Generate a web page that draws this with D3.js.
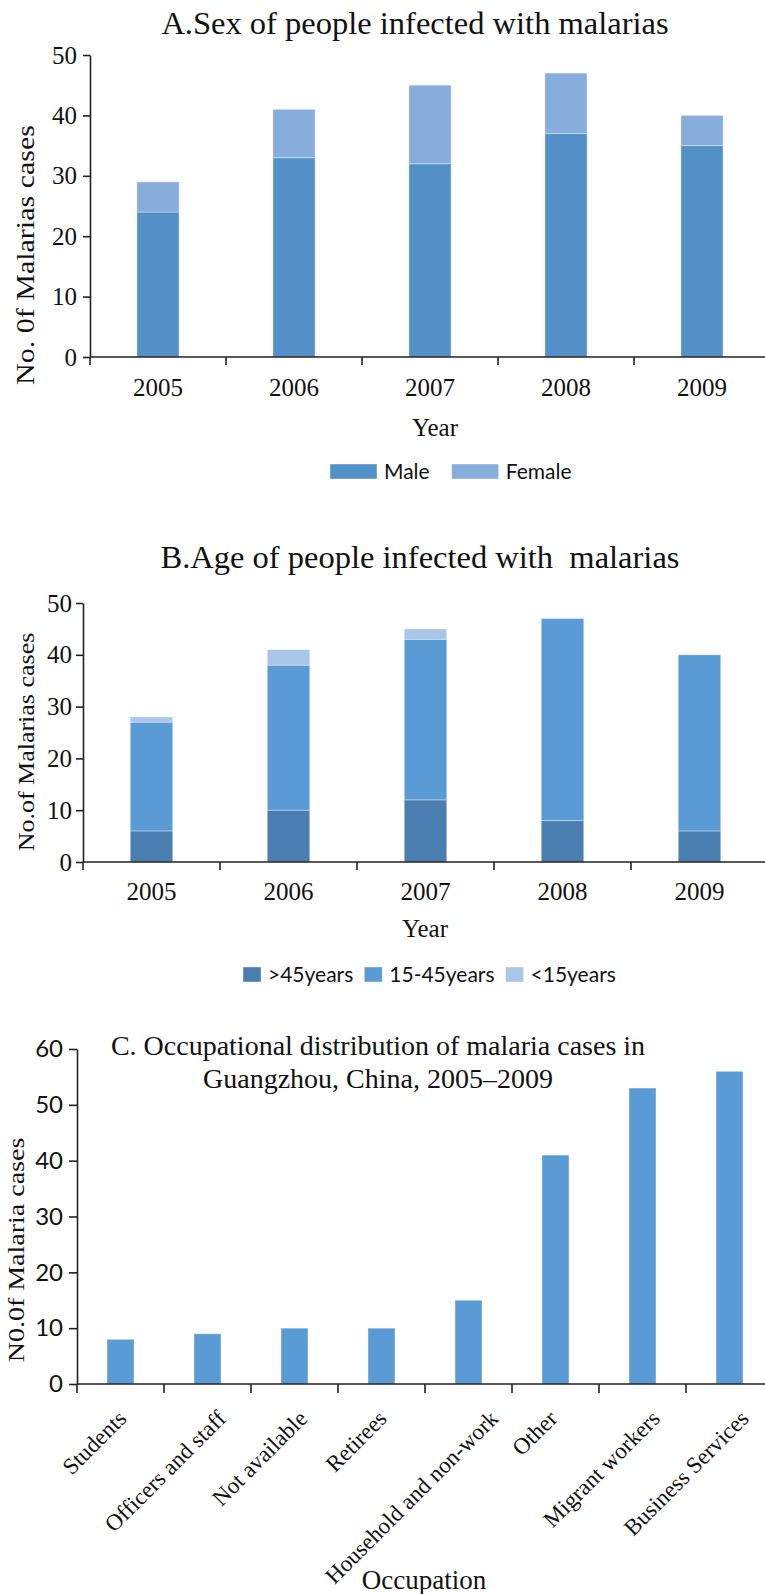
<!DOCTYPE html>
<html lang="en">
<head>
  <meta charset="UTF-8">
  <title>Malaria cases, Guangzhou 2005-2009</title>
  <script src="https://d3js.org/d3.v7.min.js"></script>
  <style>
    body { margin: 0; background: #fff; }
  </style>
</head>
<body>
<script>
  // Data
  const years = ["2005", "2006", "2007", "2008", "2009"];
  const male = [24, 33, 32, 37, 35];
  const female = [5, 8, 13, 10, 5];

  const ageOver45 = [6, 10, 12, 8, 6];
  const age15to45 = [21, 28, 31, 39, 34];
  const ageUnder15 = [1, 3, 2, 0, 0];

  const occupations = ["Students", "Officers and staff", "Not available", "Retirees",
    "Household and non-work", "Other", "Migrant workers", "Business Services"];
  const occupationCases = [8, 9, 10, 10, 15, 41, 53, 56];

  const W = 765, H = 1594;
  const SERIF = '"Liberation Serif", "Times New Roman", serif';
  const SANS = 'Lato, "Open Sans", sans-serif';
  const axisColor = "#222";

  const svg = d3.select("body").append("svg")
    .attr("width", W)
    .attr("height", H);

  function font(sel, family, size) {
    sel.style("font-family", family).style("font-size", size + "px").attr("fill", "#111");
  }

  function styleAxis(g) {
    g.selectAll("path, line").attr("stroke", axisColor).attr("stroke-width", 1.6);
  }

  // stacked bar panel (A and B)
  function stackedPanel(opt) {
    const x = d3.scaleBand().domain(years).range([opt.left, opt.right]);
    const y = d3.scaleLinear().domain([0, 50]).range([opt.bottom, opt.top]);
    const barW = x.bandwidth() * 0.31;

    const rows = years.map((yr, i) => {
      const r = { year: yr };
      opt.series.forEach(s => r[s.key] = s.values[i]);
      return r;
    });
    const stack = d3.stack().keys(opt.series.map(s => s.key))(rows);
    const color = d3.scaleOrdinal().domain(opt.series.map(s => s.key)).range(opt.series.map(s => s.color));

    const g = svg.append("g");

    g.selectAll("g.layer")
      .data(stack)
      .enter().append("g")
      .attr("fill", d => color(d.key))
      .selectAll("rect")
      .data(d => d.filter(p => p[1] > p[0]))
      .enter().append("rect")
      .attr("x", d => x(d.data.year) + (x.bandwidth() - barW) / 2)
      .attr("width", barW)
      .attr("y", d => y(d[1]))
      .attr("height", d => y(d[0]) - y(d[1]))
      .attr("stroke", "#fff")
      .attr("stroke-opacity", 0.35)
      .attr("stroke-width", 1);

    // x axis: labels at band centres, ticks at band edges
    const xa = g.append("g")
      .attr("transform", `translate(0,${opt.bottom})`)
      .call(d3.axisBottom(x).tickSize(0).tickPadding(opt.tickPad))
      .call(styleAxis);
    xa.selectAll("text").call(font, SERIF, 25);
    xa.select(".domain").attr("d", `M${opt.left},0H${opt.right}`);

    g.selectAll("line.edge")
      .data(years.map(d => x(d)))
      .enter().append("line")
      .attr("x1", d => d).attr("x2", d => d)
      .attr("y1", opt.bottom).attr("y2", opt.bottom + 8)
      .attr("stroke", axisColor).attr("stroke-width", 1.6);

    const ya = g.append("g")
      .attr("transform", `translate(${opt.left},0)`)
      .call(d3.axisLeft(y).ticks(5).tickSize(7).tickSizeOuter(0).tickPadding(opt.yPad))
      .call(styleAxis);
    ya.selectAll("text").call(font, SERIF, 25);

    g.append("text")
      .attr("x", opt.titleX).attr("y", opt.titleY)
      .attr("text-anchor", "middle")
      .call(font, SERIF, 32.5)
      .text(opt.title);

    g.append("text")
      .attr("x", opt.xLabelX).attr("y", opt.xLabelY)
      .attr("text-anchor", "middle")
      .call(font, SERIF, 25)
      .text("Year");

    g.append("text")
      .attr("transform", `translate(${opt.yLabelX},${opt.yLabelY}) rotate(-90) scale(1,0.85)`)
      .attr("text-anchor", "middle")
      .call(font, SERIF, opt.yLabelSize)
      .text(opt.yLabel);

    // legend
    const lg = g.append("g").attr("transform", `translate(${opt.legendX},${opt.legendY})`);
    let cx = 0;
    opt.series.forEach(s => {
      lg.append("rect")
        .attr("x", cx).attr("y", -8)
        .attr("width", opt.swatchW).attr("height", 15)
        .attr("fill", s.color)
        .attr("stroke", "#fff").attr("stroke-opacity", 0.4);
      const t = lg.append("text")
        .attr("x", cx + opt.swatchW + 7).attr("y", 7)
        .call(font, SANS, 21)
        .text(s.label);
      cx += opt.swatchW + 7 + t.node().getComputedTextLength() + opt.legendGap;
    });
  }

  stackedPanel({
    left: 90, right: 770, top: 55, bottom: 357, tickPad: 21, yPad: 6,
    title: "A.Sex of people infected with malarias", titleX: 415, titleY: 34,
    xLabelX: 435, xLabelY: 436,
    yLabel: "No. 0f Malarias cases", yLabelX: 34, yLabelY: 255, yLabelSize: 30,
    legendX: 330, legendY: 472, swatchW: 47, legendGap: 22,
    series: [
      { key: "male", label: "Male", values: male, color: "#5490c8" },
      { key: "female", label: "Female", values: female, color: "#86addb" }
    ]
  });

  stackedPanel({
    left: 83, right: 768, top: 603, bottom: 862, tickPad: 20, yPad: 4,
    title: "B.Age of people infected with\u00a0 malarias", titleX: 420, titleY: 568,
    xLabelX: 425, xLabelY: 937,
    yLabel: "No.of Malarias cases", yLabelX: 34, yLabelY: 742, yLabelSize: 26,
    legendX: 243, legendY: 975, swatchW: 18, legendGap: 11,
    series: [
      { key: "old", label: ">45years", values: ageOver45, color: "#4a7eb1" },
      { key: "mid", label: "15-45years", values: age15to45, color: "#5b9bd5" },
      { key: "young", label: "<15years", values: ageUnder15, color: "#a9c5e7" }
    ]
  });

  // Panel C: occupations
  (function () {
    const left = 77, right = 773, top = 1049, bottom = 1384;
    const x = d3.scaleBand().domain(occupations).range([left, right]);
    const y = d3.scaleLinear().domain([0, 60]).range([bottom, top]);
    const barW = x.bandwidth() * 0.31;
    const g = svg.append("g");

    g.selectAll("rect.occ")
      .data(occupations)
      .enter().append("rect")
      .attr("class", "occ")
      .attr("x", d => x(d) + (x.bandwidth() - barW) / 2)
      .attr("width", barW)
      .attr("y", (d, i) => y(occupationCases[i]))
      .attr("height", (d, i) => bottom - y(occupationCases[i]))
      .attr("fill", "#5b9bd5")
      .attr("stroke", "#fff").attr("stroke-opacity", 0.35);

    const xa = g.append("g")
      .attr("transform", `translate(0,${bottom})`)
      .call(d3.axisBottom(x).tickSize(0).tickPadding(0))
      .call(styleAxis);
    xa.select(".domain").attr("d", `M${left},0H${right}`);
    // rotated labels: longer labels sit a little further right, as in the source figure
    xa.selectAll("text")
      .call(font, SERIF, 23)
      .attr("text-anchor", "end")
      .attr("dy", 0)
      .attr("y", 0)
      .attr("transform", function () {
        const len = this.getComputedTextLength();
        return `translate(${-5 + 0.155 * len},36) rotate(-45)`;
      });

    g.selectAll("line.edge")
      .data(occupations.map(d => x(d)))
      .enter().append("line")
      .attr("x1", d => d).attr("x2", d => d)
      .attr("y1", bottom).attr("y2", bottom + 9)
      .attr("stroke", axisColor).attr("stroke-width", 1.6);

    const ya = g.append("g")
      .attr("transform", `translate(${left},0)`)
      .call(d3.axisLeft(y).ticks(6).tickSize(8).tickSizeOuter(0).tickPadding(6))
      .call(styleAxis);
    ya.selectAll("text").call(font, SANS, 24);

    const title = g.append("text")
      .attr("text-anchor", "middle")
      .call(font, SERIF, 28);
    title.append("tspan").attr("x", 378).attr("y", 1055).text("C. Occupational distribution of malaria cases in");
    title.append("tspan").attr("x", 378).attr("y", 1088).text("Guangzhou, China, 2005\u20132009");

    g.append("text")
      .attr("x", 424).attr("y", 1589)
      .attr("text-anchor", "middle")
      .call(font, SERIF, 27)
      .text("Occupation");

    g.append("text")
      .attr("transform", `translate(24,1250) rotate(-90) scale(1,0.85)`)
      .attr("text-anchor", "middle")
      .call(font, SERIF, 28)
      .text("N0.0f Malaria cases");
  })();
</script>
</body>
</html>
